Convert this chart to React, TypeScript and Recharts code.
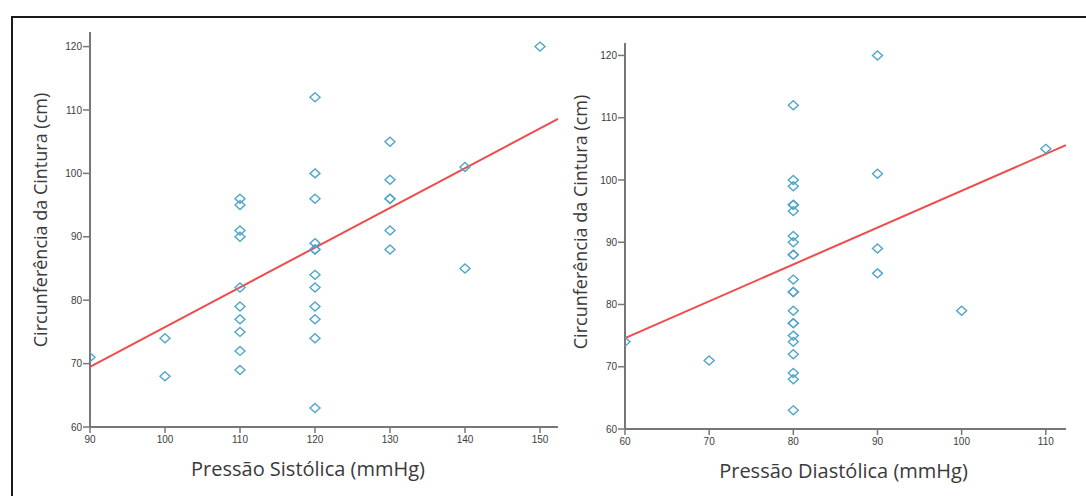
import { ScatterChart, Scatter, XAxis, YAxis, ReferenceLine, Label } from 'recharts'

// Pressão sistólica x circunferência da cintura
const sistolica = [90, 100, 100, 110, 110, 110, 110, 110, 110, 110, 110, 110, 110,
  120, 120, 120, 120, 120, 120, 120, 120, 120, 120, 120, 120,
  130, 130, 130, 130, 130, 130, 140, 140, 150]
const cinturaSis = [71, 74, 68, 96, 95, 91, 90, 82, 79, 77, 75, 72, 69,
  112, 100, 96, 89, 88, 88, 84, 82, 79, 77, 74, 63,
  105, 99, 96, 96, 91, 88, 101, 85, 120]

// Pressão diastólica x circunferência da cintura
const diastolica = [60, 70,
  80, 80, 80, 80, 80, 80, 80, 80, 80, 80, 80, 80, 80, 80, 80, 80, 80, 80, 80, 80, 80, 80,
  90, 90, 90, 90, 100, 110]
const cinturaDia = [74, 71,
  112, 100, 99, 96, 96, 95, 91, 90, 88, 88, 84, 82, 82, 79, 77, 77, 75, 74, 72, 69, 68, 63,
  120, 101, 89, 85, 79, 105]

// regression line end points
const fitSis: [number, number][] = [[90, 69.5], [152.4, 108.6]]
const fitDia: [number, number][] = [[60, 74.6], [112.4, 105.6]]

const ticksSis = [90, 100, 110, 120, 130, 140, 150]
const ticksDia = [60, 70, 80, 90, 100, 110]
const ticksCintura = [60, 70, 80, 90, 100, 110, 120]

const AXIS = '#777'
const POINT = '#4fa6c8'
const FIT = '#f04b4b'
const tickStyle = { fontSize: 10, fill: '#3c3c3c', fontFamily: 'Liberation Sans Narrow, Liberation Sans, Arial' }
const titleFont = 'Open Sans, Liberation Sans, sans-serif'

const toPoints = (xs: number[], ys: number[]) => xs.map((x, i) => ({ x, y: ys[i] }))

function Diamond(props: any) {
  const { cx, cy } = props
  if (cx == null || cy == null) return <g />
  return (
    <path
      d={`M${cx},${cy - 4.5} L${cx + 5},${cy} L${cx},${cy + 4.5} L${cx - 5},${cy} Z`}
      fill="none"
      stroke={POINT}
      strokeWidth={1.4}
    />
  )
}

function xTitle(text: string, shift: number) {
  return (props: any) => {
    const vb = props.viewBox
    return (
      <text x={vb.x + vb.width / 2 + shift} y={vb.y + 49} textAnchor="middle"
        fontSize={20} fill="#3a3a3a" fontFamily={titleFont}>{text}</text>
    )
  }
}

function yTitle(text: string, cx: number, cy: number) {
  return () => (
    <text x={cx} y={cy} textAnchor="middle" dominantBaseline="central"
      transform={`rotate(-90, ${cx}, ${cy})`}
      fontSize={18} fill="#3a3a3a" fontFamily={titleFont}>{text}</text>
  )
}

interface PanelProps {
  left: number
  width: number
  top: number
  axisW: number
  right: number
  bottom: number
  data: { x: number; y: number }[]
  fit: [number, number][]
  xDomain: [number, number]
  xTicks: number[]
  yDomain: [number, number]
  xLabel: string
  xShift: number
  yLabelX: number
  yLabelY: number
}

function Panel(p: PanelProps) {
  return (
    <div style={{ position: 'absolute', left: p.left, top: 0 }}>
      <ScatterChart width={p.width} height={496}
        margin={{ top: p.top, right: p.right, left: 0, bottom: p.bottom }}>
        <XAxis type="number" dataKey="x" domain={p.xDomain} ticks={p.xTicks}
          allowDataOverflow height={60} tick={tickStyle} tickSize={6} tickMargin={3}
          axisLine={{ stroke: AXIS, strokeWidth: 2 }} tickLine={{ stroke: AXIS, strokeWidth: 1.5 }}>
          <Label content={xTitle(p.xLabel, p.xShift)} />
        </XAxis>
        <YAxis type="number" dataKey="y" domain={p.yDomain} ticks={ticksCintura}
          allowDataOverflow width={p.axisW} tick={tickStyle} tickSize={7} tickMargin={1}
          axisLine={{ stroke: AXIS, strokeWidth: 2 }} tickLine={{ stroke: AXIS, strokeWidth: 1.5 }}>
          <Label content={yTitle('Circunferência da Cintura (cm)', p.yLabelX - p.left, p.yLabelY)} />
        </YAxis>
        <ReferenceLine segment={[{ x: p.fit[0][0], y: p.fit[0][1] }, { x: p.fit[1][0], y: p.fit[1][1] }]}
          stroke={FIT} strokeWidth={2} ifOverflow="visible" />
        <Scatter data={p.data} shape={<Diamond />} isAnimationActive={false} />
      </ScatterChart>
    </div>
  )
}

export default function App() {
  return (
    <div style={{ position: 'absolute', left: 0, top: 0, width: 1086, height: 496, background: '#fff', overflow: 'hidden' }}>
      <div style={{ position: 'absolute', left: 11, top: 16, width: 1100, height: 500,
        borderLeft: '2px solid #1a1a1a', borderTop: '2px solid #1a1a1a' }} />
      <Panel left={0} width={570} top={32} axisW={90} right={12} bottom={9}
        data={toPoints(sistolica, cinturaSis)} fit={fitSis}
        xDomain={[90, 152.4]} xTicks={ticksSis} yDomain={[60, 122.3]}
        xLabel="Pressão Sistólica (mmHg)" xShift={-16} yLabelX={40} yLabelY={220} />
      <Panel left={540} width={546} top={43} axisW={85} right={20} bottom={7}
        data={toPoints(diastolica, cinturaDia)} fit={fitDia}
        xDomain={[60, 112.4]} xTicks={ticksDia} yDomain={[60, 122]}
        xLabel="Pressão Diastólica (mmHg)" xShift={-2} yLabelX={580} yLabelY={222} />
    </div>
  )
}
